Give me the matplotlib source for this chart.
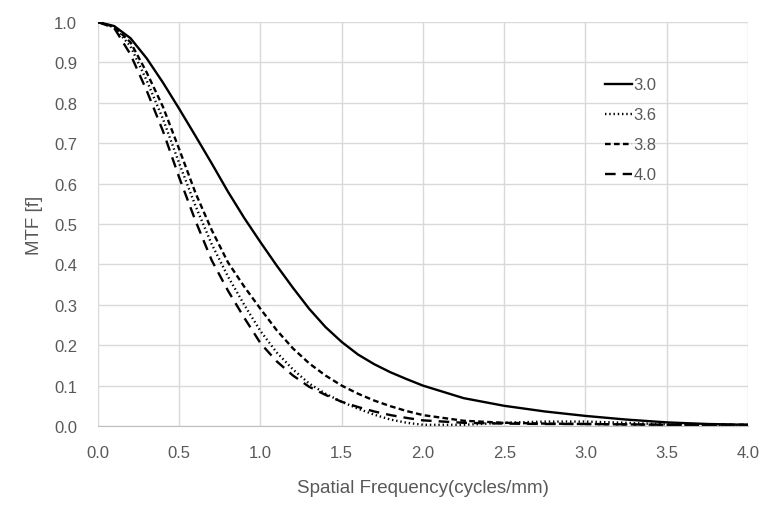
import numpy as np
import matplotlib
matplotlib.use('Agg')
import matplotlib.pyplot as plt

plt.rcParams['font.family'] = ['Liberation Sans', 'DejaVu Sans']

# spatial frequency (cycles/mm)
freq = [0.0, 0.1, 0.2, 0.3, 0.4, 0.5, 0.6, 0.7, 0.8, 0.9, 1.0,
        1.1, 1.2, 1.3, 1.4, 1.5, 1.6, 1.7, 1.8, 1.9, 2.0,
        2.25, 2.5, 2.75, 3.0, 3.25, 3.5, 3.75, 4.0]

mtf_30 = [1.0, 0.99, 0.96, 0.91, 0.85, 0.785, 0.718, 0.65, 0.58, 0.515, 0.455,
          0.397, 0.342, 0.29, 0.245, 0.208, 0.177, 0.153, 0.133, 0.116, 0.10,
          0.069, 0.05, 0.036, 0.025, 0.016, 0.009, 0.005, 0.003]
mtf_36 = [1.0, 0.987, 0.94, 0.855, 0.76, 0.65, 0.545, 0.45, 0.37, 0.30, 0.235,
          0.182, 0.14, 0.105, 0.08, 0.06, 0.043, 0.028, 0.016, 0.008, 0.003,
          0.003, 0.008, 0.011, 0.011, 0.008, 0.004, 0.002, 0.002]
mtf_38 = [1.0, 0.988, 0.95, 0.875, 0.79, 0.685, 0.577, 0.485, 0.405, 0.345, 0.29,
          0.237, 0.192, 0.155, 0.125, 0.10, 0.08, 0.063, 0.049, 0.037, 0.027,
          0.013, 0.008, 0.006, 0.005, 0.004, 0.003, 0.003, 0.003]
mtf_40 = [1.0, 0.985, 0.92, 0.83, 0.73, 0.615, 0.508, 0.41, 0.335, 0.268, 0.205,
          0.16, 0.125, 0.097, 0.077, 0.06, 0.047, 0.036, 0.027, 0.02, 0.014,
          0.008, 0.006, 0.005, 0.005, 0.004, 0.003, 0.003, 0.003]

labels = ['3.0', '3.6', '3.8', '4.0']

fig = plt.figure(figsize=(7.69, 5.06), dpi=100)
ax = fig.add_axes([0.1274, 0.1561, 0.8453, 0.7984])

lw = 1.7
ax.plot(freq, mtf_30, color='black', lw=lw, label=labels[0])
ax.plot(freq, mtf_36, color='black', lw=lw, ls=(0, (0.6, 1.2)), label=labels[1])
ax.plot(freq, mtf_38, color='black', lw=lw, ls=(0, (2.4, 1.4)), label=labels[2])
ax.plot(freq, mtf_40, color='black', lw=lw, ls=(0, (4.5, 3.0)), label=labels[3])

ax.set_xlim(0, 4.0)
ax.set_ylim(0, 1.0)
ax.set_xticks(np.arange(0, 4.01, 0.5))
ax.set_yticks(np.arange(0, 1.01, 0.1))
ax.xaxis.set_major_formatter(matplotlib.ticker.FormatStrFormatter('%.1f'))
ax.yaxis.set_major_formatter(matplotlib.ticker.FormatStrFormatter('%.1f'))
ax.grid(True, color='#d9d9d9', lw=1.0)
ax.set_axisbelow(True)
for s in ['left', 'right', 'top']:
    ax.spines[s].set_visible(False)
ax.spines['bottom'].set_color('#bfbfbf')
ax.tick_params(length=0, labelsize=12, colors='#595959')
ax.tick_params(axis='y', pad=15)
ax.tick_params(axis='x', pad=14)

ax.set_xlabel('Spatial Frequency(cycles/mm)', fontsize=13.5, color='#595959', labelpad=13)
ax.set_ylabel('MTF [f]', fontsize=13.5, color='#595959', labelpad=8)

leg = ax.legend(loc='upper left', bbox_to_anchor=(0.757, 0.9), frameon=False,
                fontsize=12, handlelength=1.6, handletextpad=0.1, labelspacing=0.9)
for t in leg.get_texts():
    t.set_color('#595959')

fig.savefig('out.png', dpi=100)
